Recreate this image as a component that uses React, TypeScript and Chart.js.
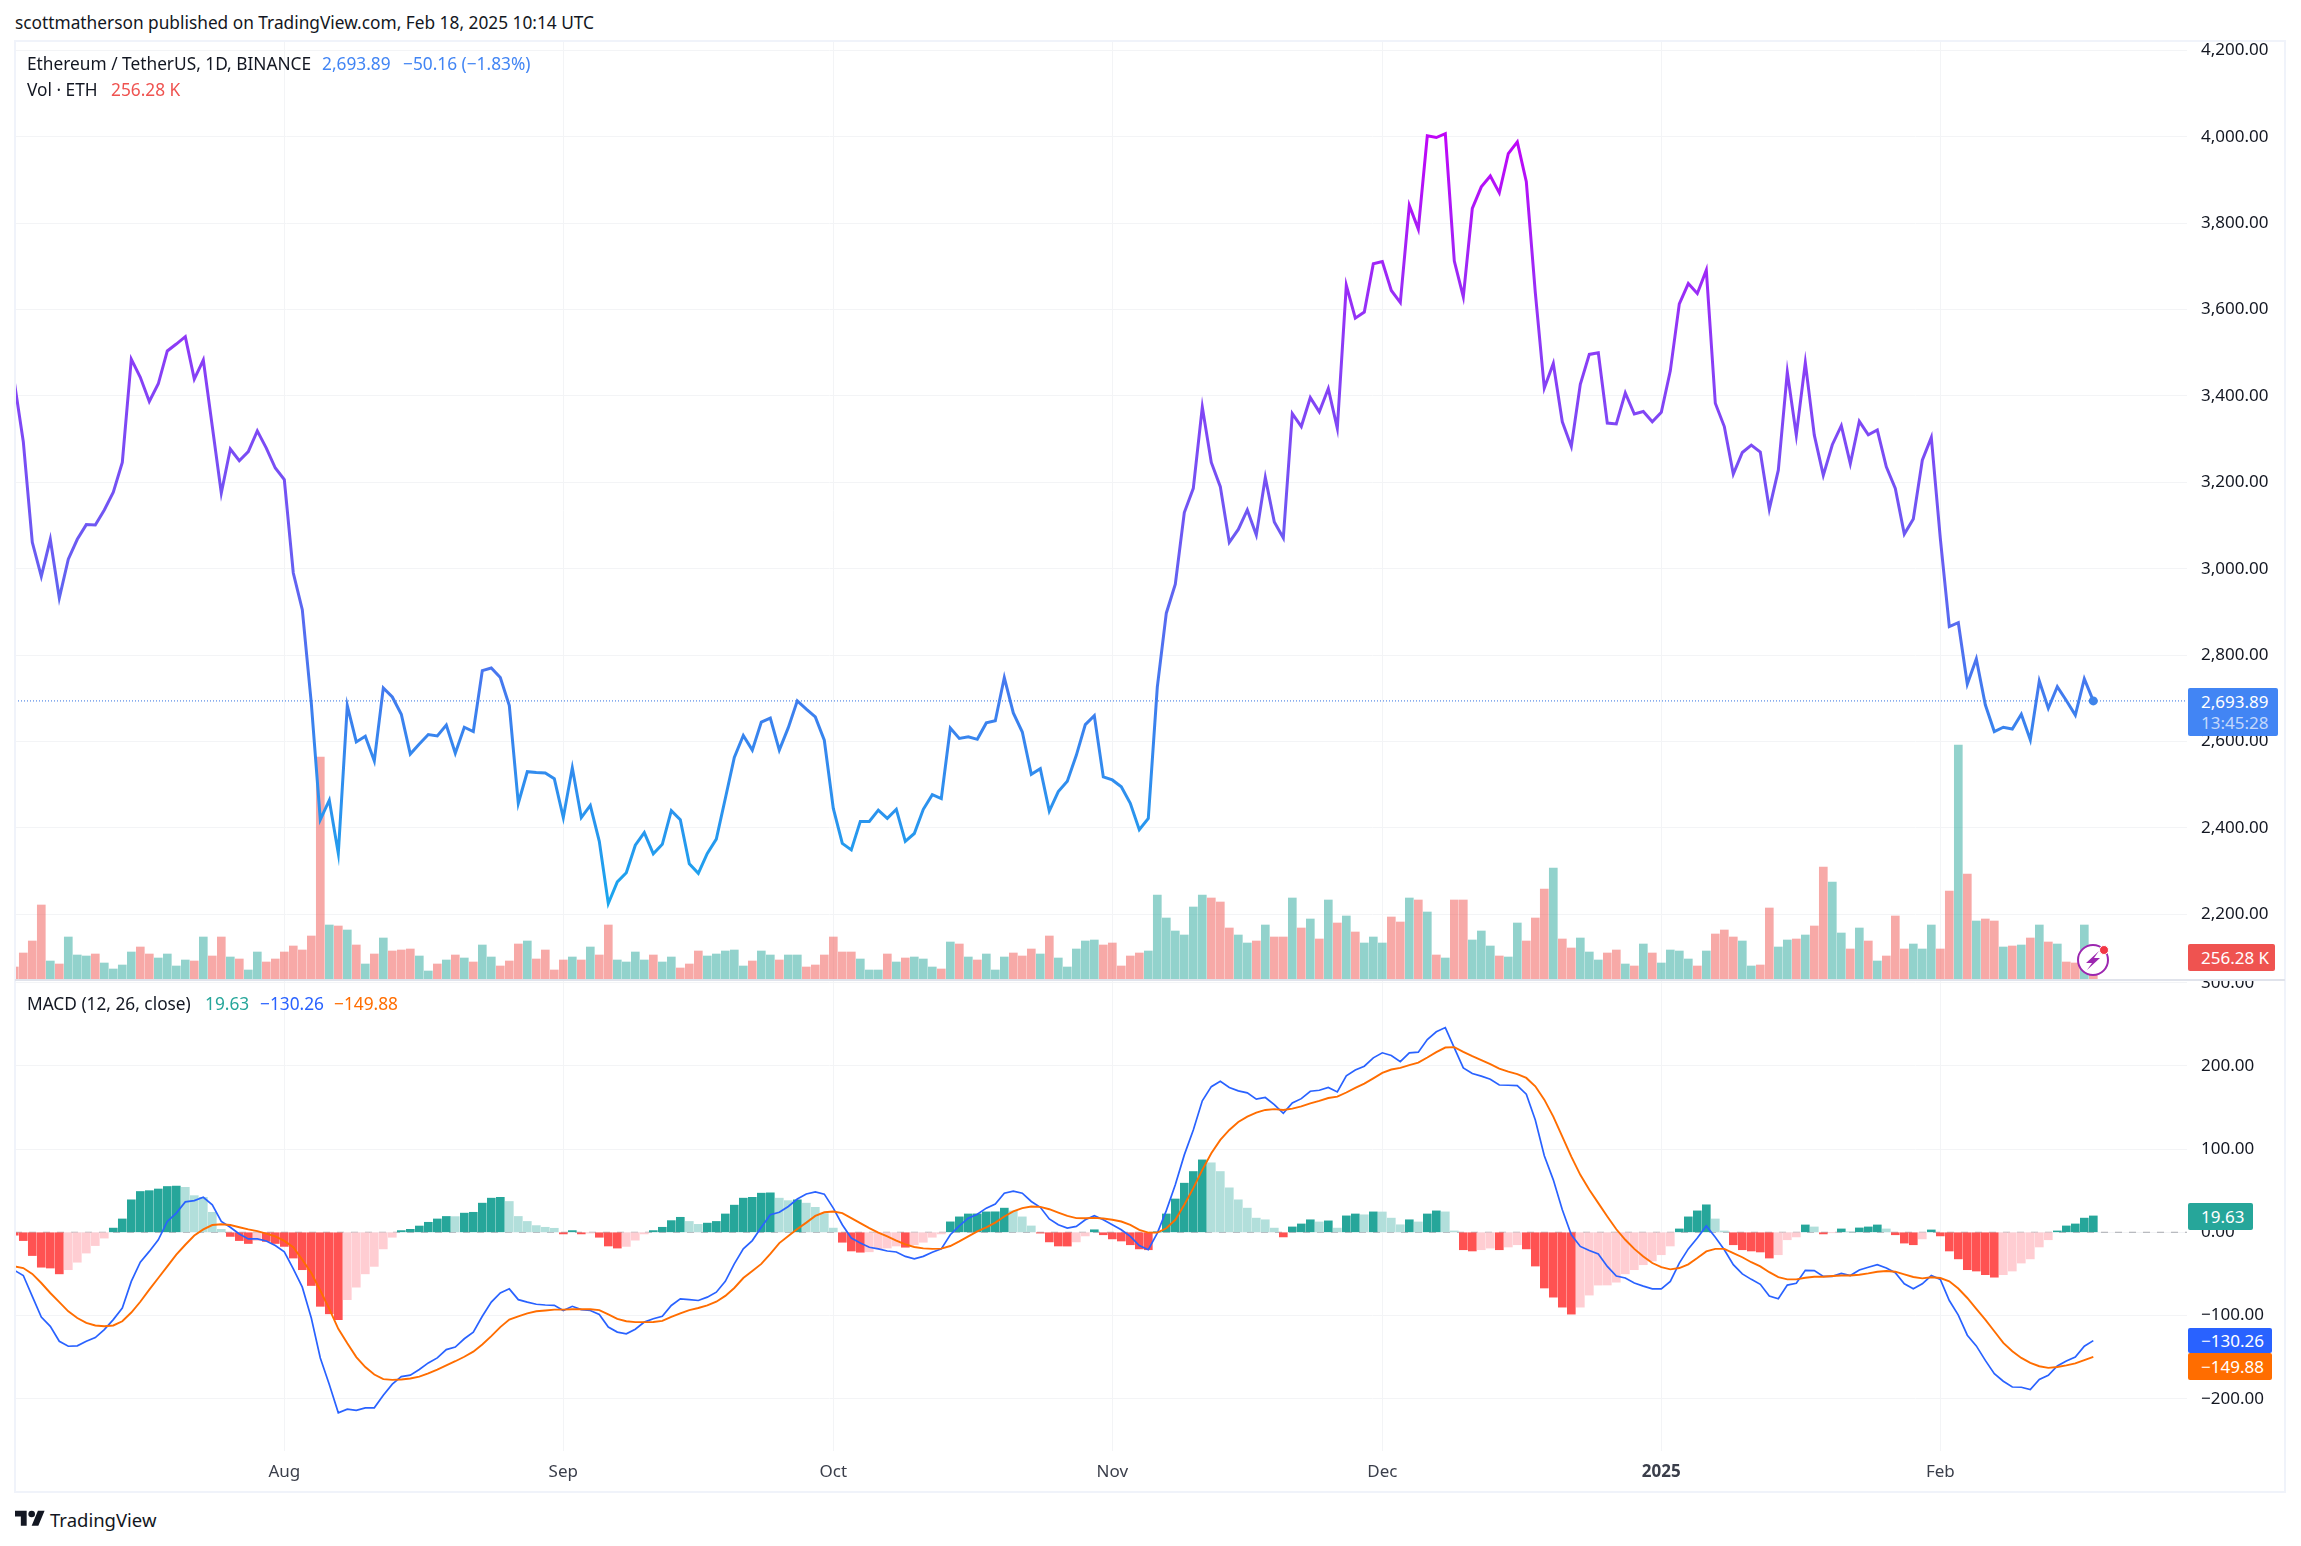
import { useEffect, useRef } from 'react';
import { Chart, registerables } from 'chart.js';

Chart.register(...registerables);

const FONT = '"Noto Sans", sans-serif';
const TEXT = '#131722';
const GRID = '#f3f4f6';

// daily closes from Jul 2 2024 to Feb 18 2025
const closes = [
  3433, 3294, 3061, 2982, 3068, 2932, 3022, 3068, 3102, 3101,
  3136, 3177, 3246, 3485, 3443, 3387, 3428, 3504, 3520, 3537,
  3439, 3483, 3329, 3175, 3277, 3250, 3271, 3319, 3279, 3233,
  3206, 2990, 2905, 2689, 2419, 2464, 2341, 2683, 2599, 2612,
  2555, 2724, 2703, 2663, 2571, 2594, 2616, 2613, 2638, 2573,
  2633, 2623, 2764, 2770, 2748, 2683, 2457, 2530, 2528, 2527,
  2514, 2424, 2539, 2424, 2452, 2369, 2225, 2275, 2296, 2360,
  2389, 2340, 2362, 2440, 2419, 2317, 2295, 2341, 2374, 2468,
  2563, 2614, 2580, 2645, 2654, 2580, 2632, 2694, 2675, 2657,
  2603, 2445, 2364, 2349, 2415, 2415, 2441, 2422, 2443, 2369,
  2387, 2443, 2477, 2468, 2631, 2607, 2611, 2605, 2643, 2648,
  2748, 2666, 2622, 2524, 2537, 2439, 2484, 2508, 2568, 2639,
  2660, 2518, 2511, 2495, 2457, 2396, 2422, 2726, 2897, 2964,
  3130, 3186, 3374, 3246, 3190, 3061, 3091, 3136, 3078, 3211,
  3108, 3071, 3359, 3329, 3396, 3363, 3417, 3325, 3656, 3580,
  3594, 3706, 3711, 3644, 3616, 3841, 3786, 4002, 3998, 4007,
  3712, 3629, 3834, 3884, 3909, 3870, 3961, 3988, 3896, 3639,
  3418, 3475, 3340, 3283, 3427, 3496, 3500, 3337, 3335, 3407,
  3358, 3364, 3340, 3362, 3458, 3613, 3660, 3637, 3691, 3383,
  3329, 3219, 3269, 3286, 3270, 3138, 3228, 3455, 3309, 3477,
  3309, 3216, 3287, 3331, 3243, 3341, 3310, 3321, 3236, 3186,
  3080, 3115, 3251, 3304, 3070, 2866, 2875, 2733, 2791, 2685,
  2623, 2633, 2629, 2663, 2604, 2740, 2677, 2727, 2695, 2661,
  2745, 2693.89,
];

// volume in thousands of ETH
const volumes = [
  130, 270, 390, 750, 190, 160, 430, 250, 240, 260,
  170, 110, 150, 280, 330, 260, 220, 260, 140, 200,
  190, 430, 240, 430, 230, 210, 100, 280, 180, 210,
  280, 340, 300, 440, 2230, 550, 540, 500, 350, 160,
  260, 420, 290, 300, 310, 240, 90, 160, 200, 250,
  220, 180, 350, 230, 140, 190, 360, 390, 210, 300,
  100, 200, 230, 200, 330, 250, 550, 200, 180, 280,
  200, 250, 180, 230, 120, 160, 290, 240, 260, 290,
  300, 140, 190, 290, 250, 200, 250, 250, 130, 150,
  250, 430, 280, 280, 210, 100, 100, 260, 180, 220,
  230, 210, 130, 110, 380, 360, 230, 200, 260, 100,
  230, 270, 240, 310, 260, 440, 220, 130, 310, 390,
  400, 350, 370, 140, 240, 270, 290, 850, 620, 490,
  450, 730, 850, 820, 780, 520, 450, 370, 390, 550,
  430, 430, 820, 520, 610, 410, 800, 570, 640, 480,
  370, 430, 370, 630, 580, 820, 800, 680, 250, 220,
  800, 800, 400, 490, 340, 240, 230, 570, 390, 620,
  910, 1120, 410, 320, 420, 280, 200, 270, 300, 160,
  140, 360, 270, 170, 300, 290, 210, 140, 290, 460,
  500, 430, 390, 140, 150, 720, 330, 400, 410, 450,
  540, 1130, 980, 470, 310, 520, 390, 190, 240, 640,
  310, 360, 310, 550, 310, 890, 2350, 1060, 590, 610,
  590, 330, 340, 350, 420, 550, 380, 360, 180, 170,
  550, 256.28,
];

// 1 = green volume bar, 0 = red
const volumeUp = [
  0, 0, 0, 0, 1, 0, 1, 1, 1, 0,
  1, 1, 1, 1, 0, 0, 1, 1, 1, 1,
  0, 1, 0, 0, 1, 0, 1, 1, 0, 0,
  0, 0, 0, 0, 0, 1, 0, 1, 0, 1,
  0, 1, 0, 0, 0, 1, 1, 0, 1, 0,
  1, 0, 1, 1, 0, 0, 0, 1, 0, 0,
  0, 0, 1, 0, 1, 0, 0, 1, 1, 1,
  1, 0, 1, 1, 0, 0, 0, 1, 1, 1,
  1, 1, 0, 1, 1, 0, 1, 1, 0, 0,
  0, 0, 0, 0, 1, 1, 1, 0, 1, 0,
  1, 1, 1, 0, 1, 0, 1, 0, 1, 1,
  1, 0, 0, 0, 1, 0, 1, 1, 1, 1,
  1, 0, 0, 0, 0, 0, 1, 1, 1, 1,
  1, 1, 1, 0, 0, 0, 1, 1, 0, 1,
  0, 0, 1, 0, 1, 0, 1, 0, 1, 0,
  1, 1, 1, 0, 0, 1, 0, 1, 0, 1,
  0, 0, 1, 1, 1, 0, 1, 1, 0, 0,
  0, 1, 0, 0, 1, 1, 1, 0, 0, 1,
  0, 1, 0, 1, 1, 1, 1, 0, 1, 0,
  0, 0, 1, 1, 0, 0, 1, 1, 0, 1,
  0, 0, 1, 1, 0, 1, 0, 1, 0, 0,
  0, 1, 1, 1, 0, 0, 1, 0, 1, 0,
  0, 1, 0, 1, 0, 1, 0, 1, 0, 0,
  1, 0,
];

const histogram = [
  -3.5, -10, -28, -42, -43, -50, -45, -36, -25, -16,
  -7, 5, 16, 39, 49, 50, 52, 55, 55.5, 54,
  44, 42, 24, 3.5, -5, -10, -13.5, -10, -11, -13.5,
  -17, -31, -45, -64, -89, -98, -105, -81, -66, -50,
  -41, -20, -6, 2, 3.5, 7.5, 12, 16, 19, 18.8,
  23, 24, 35, 41, 42, 37, 19, 13, 8, 6,
  4.8, -2, 2, -2, -1, -6, -16.5, -19, -17, -9.5,
  -2, 2, 6, 14, 18, 13, 9.5, 11, 13, 22,
  32.6, 41, 42, 47, 47.4, 41, 38, 39, 35, 30,
  22.5, 5, -12, -22.5, -24, -23.5, -20, -19, -16.5, -18,
  -15, -12, -6, -2, 12.5, 18.5, 22, 22.1, 24.5, 24.6,
  29, 25.7, 18.5, 7.6, -1, -11.6, -16.5, -16.6, -11.6, -4.4,
  3, -3, -8, -10.5, -15, -20, -21, 0.3, 22, 40,
  59, 73, 87, 83.5, 73, 53.4, 39, 29, 17, 15,
  5, -5.6, 6.4, 10, 15, 12.4, 13.7, 5, 19.7, 22,
  21, 24.5, 24.4, 17, 9, 15, 12.4, 22, 25.7, 24.5,
  1.6, -21, -22.5, -21, -19, -21, -17.7, -15, -20, -40.6,
  -67, -78, -90, -98.4, -90, -75.5, -63.5, -63.4, -60, -50,
  -45, -39, -34.5, -27, -16.5, 4, 18.5, 25.7, 33, 16,
  1.6, -15, -21, -22.5, -23.7, -31, -27, -9, -5.6, 8.8,
  6.4, -2, -0.5, 4, 0.4, 5.2, 6.4, 8.8, 4, -3,
  -13, -15, -8, 2.8, -4.4, -22.5, -32, -45, -46.6, -51,
  -54, -51, -46.6, -37, -32, -17.7, -9, 1.6, 7.6, 10,
  17, 19.63,
];

const macdLine = [
  -45.6, -52, -77, -102, -113, -131, -137, -136.5, -131, -126.5,
  -117, -105, -91, -59, -36, -23, -9, 13, 23, 36.5,
  38, 42, 33, 13, 6, -2, -8, -8, -10.5, -16,
  -23.5, -44, -66, -103, -151, -183, -217, -212.6, -214, -211,
  -211, -196, -182.6, -173.5, -171.7, -165, -157, -151, -141, -138,
  -128, -120, -101, -84, -73, -68, -81, -84, -86.5, -87.4,
  -87.8, -94, -89, -93, -94, -98.7, -114, -120, -122, -116.5,
  -108, -104, -101, -88, -80, -81, -82, -78, -72, -59,
  -38, -20, -10, 6, 21, 24, 31, 40, 46, 48.6,
  45.8, 29, 9, -7, -13, -18, -20, -22.5, -23.7, -29,
  -32, -29, -24, -20, -3, 7.6, 17, 21.7, 29, 34,
  47, 49.4, 47, 37, 30, 16, 9, 5, 7, 15,
  20, 15, 9, 3, -5, -16, -21, -1, 26, 57,
  93, 123, 158, 175, 181.5, 174, 170, 167.5, 160, 162,
  153.4, 143, 155.4, 160.6, 169.5, 170.7, 174, 168.7, 188, 195,
  199.6, 209.6, 215.7, 212.4, 205, 215.7, 216.5, 231.7, 241, 246,
  221.7, 197.6, 190.8, 187.6, 184, 177, 176.7, 176.3, 166, 135,
  92, 63, 27, -3, -17, -22, -26, -41, -52.6, -55,
  -61, -64.7, -68, -68, -59, -37, -20, -7, 7.6, -6,
  -21, -39, -50, -56.6, -62.6, -76.7, -80, -63.5, -61.4, -45.8,
  -46, -53, -53, -49.4, -52, -45.4, -42, -39, -43, -48.6,
  -62, -68, -62, -52, -56.6, -82, -99.6, -123.7, -136.6, -154,
  -170, -179, -186, -186.3, -189, -177, -172, -160.6, -154.6, -150,
  -137, -130.26,
];

const signalLine = [
  -41, -43, -50, -61, -73, -84, -95, -103, -109, -112,
  -113, -112, -107, -96.5, -83.5, -69, -55, -41, -27, -15,
  -4, 3.5, 8.7, 9.6, 8.7, 6, 3.5, 1.3, -1.7, -5,
  -10.4, -18, -33, -49, -70, -92, -116, -133.5, -150, -162,
  -171, -176.5, -177.4, -177, -175.7, -173.5, -169.6, -165, -160, -155,
  -149.6, -143.5, -134.8, -124.8, -114, -105, -101, -97.4, -95, -94,
  -93, -93, -92.6, -92.6, -92.6, -93.5, -98.7, -104, -107, -108,
  -108, -107.8, -106.5, -101.7, -97.4, -93.5, -91, -87.8, -83.5, -76.5,
  -67, -55, -46.5, -38, -26, -13, -4.4, 4, 11.6, 19.7,
  24, 25, 23, 17, 11, 5, -0.4, -5, -10, -14.5,
  -17.7, -19.3, -20, -19.7, -16.5, -11, -5, 1, 6, 11.6,
  19, 25, 29, 31, 30.5, 27.7, 23.7, 19.7, 17, 16.9,
  17.3, 16.5, 15, 12.9, 8.8, 2.8, -0.4, -0.4, 4.8, 15,
  33, 53, 75, 95, 111, 123, 132.5, 139, 143.8, 147,
  148, 147, 148.6, 151.4, 155, 158, 161.4, 163, 168, 173.5,
  178.7, 185, 191.6, 195.6, 197.6, 200.8, 204, 210, 216.5, 222,
  222.5, 216.9, 211.6, 206.8, 202, 196.8, 193, 190, 185.5, 175.5,
  159.4, 139, 115, 91, 69, 51, 35, 19, 3.6, -9,
  -20, -29, -37, -42, -44.6, -43, -38.6, -31, -23, -20,
  -20, -25, -30, -36, -41, -48, -54, -56.6, -56.6, -54.6,
  -53.4, -53.4, -52.6, -52, -52, -51, -49.4, -47.4, -46.6, -47.4,
  -50.6, -53.8, -55.4, -54, -55, -59, -67.6, -79, -92, -105,
  -119, -133, -143, -151, -157, -161, -163, -162, -160, -157.6,
  -153.6, -149.88,
];

const dayIndex = closes.map((_, i) => i);

// month gridlines, as days since the first bar
const monthTicks = [30, 61, 91, 122, 152, 183, 214];
const monthLabels = ['Aug', 'Sep', 'Oct', 'Nov', 'Dec', '2025', 'Feb'];
const priceTicks = [2200, 2400, 2600, 2800, 3000, 3200, 3400, 3600, 3800, 4000, 4200];
const macdTicks = [-200, -100, 0, 100, 200, 300];

const LAST_PRICE = 2693.89;
const X_MIN = 0.078;
const X_MAX = 241.41;

function formatAxis(v: number) {
  return Number(v)
    .toLocaleString('en-US', { minimumFractionDigits: 2, maximumFractionDigits: 2 })
    .replace('-', '\u2212');
}

function histColor(i: number) {
  const v = histogram[i];
  const prev = i > 0 ? histogram[i - 1] : v + 1;
  if (v >= 0) return v > prev ? '#26a69a' : '#b2dfdb';
  return v < prev ? '#ff5252' : '#ffcdd2';
}

function priceGradient(chart: any) {
  const { ctx, scales, chartArea } = chart;
  if (!chartArea || !scales.y) return '#3f84ea';
  const top = scales.y.getPixelForValue(4050);
  const bottom = scales.y.getPixelForValue(2200);
  if (!Number.isFinite(top) || !Number.isFinite(bottom)) return '#3f84ea';
  const g = ctx.createLinearGradient(0, top, 0, bottom);
  g.addColorStop(0, '#c400f8');
  g.addColorStop(0.3, '#8a3df6');
  g.addColorStop(0.55, '#6a5cf2');
  g.addColorStop(0.75, '#3c80ee');
  g.addColorStop(1, '#18a8ee');
  return g;
}

// the panes sit edge to edge, so the axes may not ask for room for their labels
function noPadding(axis: any) {
  axis.paddingTop = 0;
  axis.paddingBottom = 0;
  axis.paddingLeft = 0;
  axis.paddingRight = 0;
}

function PriceChart() {
  const canvasRef = useRef<HTMLCanvasElement>(null);

  useEffect(() => {
    if (!canvasRef.current) return;
    const chart = new Chart(canvasRef.current, {
      type: 'bar',
      data: {
        labels: dayIndex,
        datasets: [
          {
            type: 'line',
            data: [
              { x: X_MIN, y: LAST_PRICE },
              { x: X_MAX, y: LAST_PRICE },
            ],
            borderColor: '#2f6fe0',
            borderWidth: 1,
            borderDash: [1, 2],
            pointRadius: 0,
            yAxisID: 'y',
            order: 3,
          },
          {
            type: 'bar',
            data: volumes,
            backgroundColor: volumeUp.map((u) =>
              u ? 'rgba(38,166,154,0.5)' : 'rgba(239,83,80,0.5)',
            ),
            barThickness: 8,
            yAxisID: 'yVol',
            order: 2,
          },
          {
            type: 'line',
            data: closes,
            borderColor: (c: any) => priceGradient(c.chart),
            borderWidth: 3,
            borderJoinStyle: 'miter',
            tension: 0,
            pointRadius: closes.map((_, i) => (i === closes.length - 1 ? 4.5 : 0)),
            pointBackgroundColor: '#3f84ea',
            pointBorderWidth: 0,
            yAxisID: 'y',
            order: 1,
          },
        ] as any,
      },
      options: {
        animation: false,
        responsive: false,
        events: [],
        layout: { padding: 0, autoPadding: false },
        plugins: { legend: { display: false }, tooltip: { enabled: false } },
        scales: {
          x: {
            type: 'linear',
            min: X_MIN,
            max: X_MAX,
            offset: false,
            grid: { color: GRID, drawTicks: false, offset: false },
            border: { display: false },
            ticks: { display: false },
            afterBuildTicks: (axis: any) => {
              axis.ticks = monthTicks.map((value) => ({ value }));
            },
            afterFit: noPadding,
          },
          y: {
            position: 'right',
            min: 2047.9,
            max: 4221.5,
            grid: { color: GRID, drawTicks: false },
            border: { display: false },
            ticks: {
              padding: 14,
              color: TEXT,
              font: { family: FONT, size: 17 },
              callback: (v: any) => formatAxis(v),
            },
            afterBuildTicks: (axis: any) => {
              axis.ticks = priceTicks.map((value) => ({ value }));
            },
            afterFit: (axis: any) => {
              noPadding(axis);
              axis.width = 98;
            },
          },
          yVol: {
            display: false,
            min: 0,
            max: 9390,
          },
        },
      } as any,
    });
    return () => {
      chart.destroy();
    };
  }, []);

  return (
    <canvas
      ref={canvasRef}
      width={2270}
      height={939}
      style={{ position: 'absolute', left: 15, top: 41, width: 2270, height: 939 }}
    />
  );
}

function MacdChart() {
  const canvasRef = useRef<HTMLCanvasElement>(null);

  useEffect(() => {
    if (!canvasRef.current) return;
    const chart = new Chart(canvasRef.current, {
      type: 'bar',
      data: {
        labels: dayIndex,
        datasets: [
          {
            type: 'line',
            data: [
              { x: X_MIN, y: 0 },
              { x: X_MAX, y: 0 },
            ],
            borderColor: '#a8aab0',
            borderWidth: 1,
            borderDash: [7, 7],
            pointRadius: 0,
            order: 4,
          },
          {
            type: 'bar',
            data: histogram,
            backgroundColor: histogram.map((_, i) => histColor(i)),
            barThickness: 8,
            order: 3,
          },
          {
            type: 'line',
            data: macdLine,
            borderColor: '#2962ff',
            borderWidth: 1.7,
            tension: 0,
            pointRadius: 0,
            order: 2,
          },
          {
            type: 'line',
            data: signalLine,
            borderColor: '#ff6d00',
            borderWidth: 1.9,
            tension: 0,
            pointRadius: 0,
            order: 1,
          },
        ] as any,
      },
      options: {
        animation: false,
        responsive: false,
        events: [],
        layout: { padding: 0, autoPadding: false },
        plugins: { legend: { display: false }, tooltip: { enabled: false } },
        scales: {
          x: {
            type: 'linear',
            min: X_MIN,
            max: X_MAX,
            offset: false,
            grid: { color: GRID, drawTicks: false, offset: false },
            border: { display: false },
            ticks: {
              autoSkip: false,
              maxRotation: 0,
              padding: 11,
              color: '#3a3e4a',
              font: (c: any) => ({
                family: FONT,
                size: 17,
                weight: c.tick && c.tick.value === 183 ? 'bold' : 'normal',
              }),
              callback: (v: any) => monthLabels[monthTicks.indexOf(v)],
            },
            afterBuildTicks: (axis: any) => {
              axis.ticks = monthTicks.map((value) => ({ value }));
            },
            afterFit: (axis: any) => {
              noPadding(axis);
              axis.height = 42;
            },
          },
          y: {
            position: 'right',
            min: -262.9,
            max: 302,
            grid: { color: GRID, drawTicks: false },
            border: { display: false },
            ticks: {
              padding: 14,
              color: TEXT,
              font: { family: FONT, size: 17 },
              callback: (v: any) => formatAxis(v),
            },
            afterBuildTicks: (axis: any) => {
              axis.ticks = macdTicks.map((value) => ({ value }));
            },
            afterFit: (axis: any) => {
              noPadding(axis);
              axis.width = 98;
            },
          },
        },
      } as any,
    });
    return () => {
      chart.destroy();
    };
  }, []);

  return (
    <canvas
      ref={canvasRef}
      width={2270}
      height={512}
      style={{ position: 'absolute', left: 15, top: 981, width: 2270, height: 512 }}
    />
  );
}

function Label(props: { x: number; y: number; color?: string; size?: number; children: any }) {
  return (
    <div
      style={{
        position: 'absolute',
        left: props.x,
        top: props.y - 15,
        height: 30,
        lineHeight: '30px',
        whiteSpace: 'nowrap',
        color: props.color ?? TEXT,
        fontSize: props.size ?? 17.3,
      }}
    >
      {props.children}
    </div>
  );
}

function Tag(props: { top: number; bottom: number; right: number; bg: string; children: any }) {
  return (
    <div
      style={{
        position: 'absolute',
        left: 2188,
        top: props.top,
        width: props.right - 2188,
        height: props.bottom - props.top,
        background: props.bg,
        borderRadius: 2,
        color: '#fff',
        fontSize: 17,
        paddingLeft: 13,
        boxSizing: 'border-box',
        lineHeight: `${props.bottom - props.top}px`,
        whiteSpace: 'nowrap',
      }}
    >
      {props.children}
    </div>
  );
}

export default function App() {
  return (
    <div
      style={{
        position: 'absolute',
        left: 0,
        top: 0,
        width: 2301,
        height: 1546,
        background: '#fff',
        overflow: 'hidden',
        fontFamily: FONT,
      }}
    >
      <Label x={15} y={23}>scottmatherson published on TradingView.com, Feb 18, 2025 10:14 UTC</Label>

      <PriceChart />
      <MacdChart />

      {/* pane frame and divider */}
      <div
        style={{
          position: 'absolute',
          left: 14,
          top: 40,
          width: 2268,
          height: 1449,
          border: '2px solid #f0f3fa',
        }}
      />
      <div
        style={{ position: 'absolute', left: 15, top: 979, width: 2270, height: 2, background: '#e0e3eb' }}
      />

      <Label x={27} y={64}>Ethereum / TetherUS, 1D, BINANCE</Label>
      <Label x={322} y={64} color="#4285f4">2,693.89</Label>
      <Label x={403} y={64} color="#4285f4">{'\u221250.16 (\u22121.83%)'}</Label>
      <Label x={27} y={90}>{'Vol \u00b7 ETH'}</Label>
      <Label x={111} y={90} color="#ef5350">256.28 K</Label>
      <Label x={27} y={1004}>MACD (12, 26, close)</Label>
      <Label x={205} y={1004} color="#26a69a">19.63</Label>
      <Label x={260} y={1004} color="#2962ff">{'\u2212130.26'}</Label>
      <Label x={334} y={1004} color="#ff6d00">{'\u2212149.88'}</Label>

      <div
        style={{
          position: 'absolute',
          left: 2188,
          top: 688,
          width: 90,
          height: 48,
          background: '#4285f4',
          borderRadius: 2,
          color: '#fff',
          fontSize: 17,
          paddingLeft: 13,
          boxSizing: 'border-box',
          whiteSpace: 'nowrap',
        }}
      >
        <div style={{ lineHeight: '21px', marginTop: 3 }}>2,693.89</div>
        <div style={{ lineHeight: '21px', color: 'rgba(255,255,255,0.7)' }}>13:45:28</div>
      </div>
      <Tag top={944} bottom={971} right={2275} bg="#ef5350">256.28 K</Tag>
      <Tag top={1203} bottom={1230} right={2253} bg="#26a69a">19.63</Tag>
      <Tag top={1328} bottom={1353} right={2272} bg="#2962ff">{'\u2212130.26'}</Tag>
      <Tag top={1353} bottom={1380} right={2272} bg="#ff6d00">{'\u2212149.88'}</Tag>

      {/* ideas badge on the last bar */}
      <svg
        width="40"
        height="40"
        viewBox="0 0 40 40"
        style={{ position: 'absolute', left: 2073, top: 940 }}
      >
        <circle cx="20" cy="20" r="15" fill="#fff" stroke="#9c27b0" strokeWidth="2" />
        <path d="M26 11 L13 23 L19 23 L14 30 L27 18 L21 18 Z" fill="#9c27b0" />
        <circle cx="31" cy="10" r="4.5" fill="#f23645" stroke="#fff" strokeWidth="1" />
      </svg>

      {/* TradingView logo */}
      <svg
        width="30"
        height="24"
        viewBox="0 0 36 28"
        style={{ position: 'absolute', left: 15, top: 1507 }}
      >
        <path d="M14 22H7V11H0V4h14v18ZM28 22h-8l7.5-18h8L28 22Z" fill={TEXT} />
        <circle cx="20" cy="8" r="4" fill={TEXT} />
      </svg>
      <Label x={50} y={1520} size={18.5}>TradingView</Label>
    </div>
  );
}
